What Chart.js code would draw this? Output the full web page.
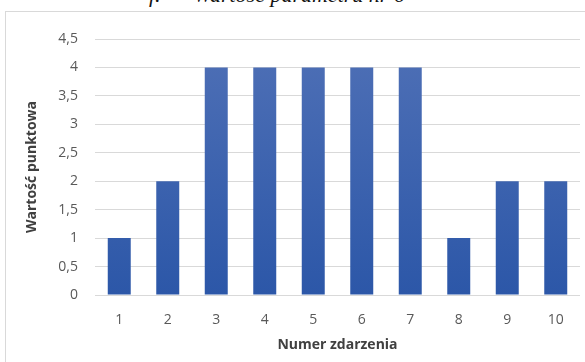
<!DOCTYPE html>
<html>
<head>
<meta charset="utf-8">
<script src="https://cdn.jsdelivr.net/npm/chart.js@4/dist/chart.umd.min.js"></script>
<style>
  html, body { margin: 0; padding: 0; background: #fff; }
  body { width: 585px; height: 362px; position: relative; overflow: hidden; }
  #caption {
    position: absolute; left: 149px; top: -17px;
    font-family: "Liberation Serif", serif; font-style: italic; font-size: 22px;
    color: #111; white-space: pre; line-height: 24px;
  }
  #frame {
    position: absolute; left: 5px; top: 11px; width: 600px; height: 400px;
    border: 1px solid #d9d9d9; box-sizing: border-box;
  }
  #wrap { position: absolute; left: 0; top: 0; width: 585px; height: 362px; }
</style>
</head>
<body>
<div id="caption">f.      Wartość parametru nr 6</div>
<div id="frame"></div>
<div id="wrap"><canvas id="c" width="585" height="362"></canvas></div>
<script>
// Event numbers and the score recorded for each of them
const categories = ['1', '2', '3', '4', '5', '6', '7', '8', '9', '10'];
const scores = [1, 2, 4, 4, 4, 4, 4, 1, 2, 2];
const yTicks = [0, 0.5, 1, 1.5, 2, 2.5, 3, 3.5, 4, 4.5];
const xTitle = 'Numer zdarzenia';
const yTitle = 'Wartość punktowa';

const font = 'Open Sans';
const tickColor = '#595959';
const titleColor = '#404040';

function barFill(ctx) {
  const area = ctx.chart.chartArea;
  if (!area) return '#3a62ae';
  const g = ctx.chart.ctx.createLinearGradient(0, area.top, 0, area.bottom);
  g.addColorStop(0, '#4f70b6');
  g.addColorStop(1, '#2c57a8');
  return g;
}

new Chart(document.getElementById('c'), {
  type: 'bar',
  data: {
    labels: categories,
    datasets: [{
      data: scores,
      backgroundColor: barFill,
      borderWidth: 0,
      barPercentage: 0.474,
      categoryPercentage: 1
    }]
  },
  options: {
    responsive: false,
    animation: false,
    events: [],
    layout: { padding: { left: 0, right: 5, top: 39, bottom: 0 } },
    plugins: { legend: { display: false }, tooltip: { enabled: false } },
    scales: {
      x: {
        grid: { display: false },
        border: { display: false },
        ticks: {
          color: tickColor, font: { family: font, size: 14 }, padding: 9,
          maxRotation: 0, autoSkip: false
        },
        title: {
          display: true, text: xTitle, color: titleColor,
          font: { family: font, size: 14, weight: 'bold' },
          padding: { top: 0, bottom: 9 }
        },
        afterFit(scale) { scale.height = 67; }
      },
      y: {
        min: 0, max: 4.5,
        afterBuildTicks(scale) { scale.ticks = yTicks.map(v => ({ value: v })); },
        grid: { color: '#d9d9d9', lineWidth: 1, drawTicks: false },
        border: { display: false },
        ticks: {
          color: tickColor, font: { family: font, size: 14 }, padding: 17,
          callback: v => String(v).replace('.', ',')
        },
        title: {
          display: true, text: yTitle, color: titleColor,
          font: { family: font, size: 14, weight: 'bold' },
          padding: { top: 24, bottom: 0 }
        },
        afterFit(scale) { scale.width = 95; }
      }
    }
  }
});
</script>
</body>
</html>
